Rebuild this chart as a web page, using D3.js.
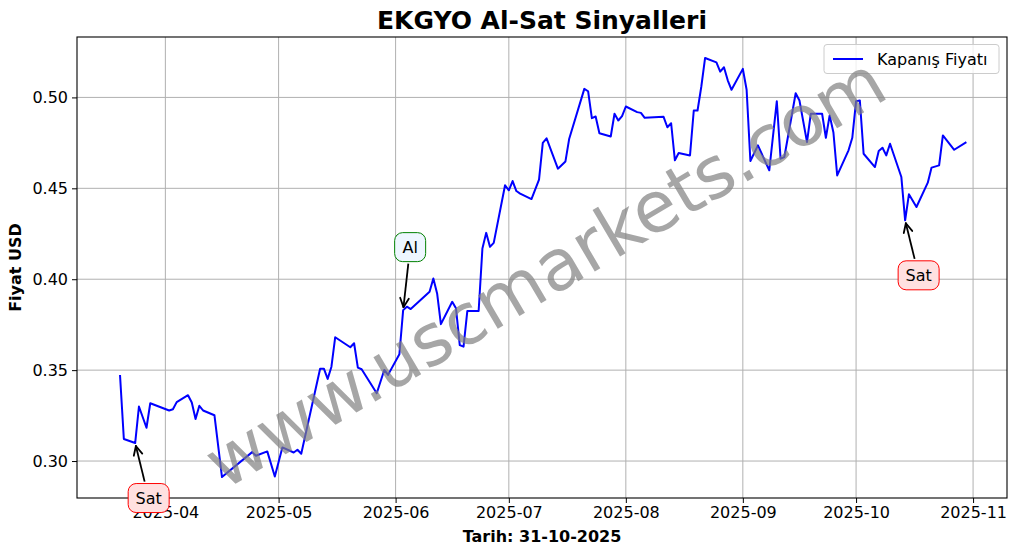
<!DOCTYPE html>
<html>
<head>
<meta charset="utf-8">
<script src="https://cdn.jsdelivr.net/npm/d3@7"></script>
<style>
html,body{margin:0;padding:0;background:#fff;}
svg{display:block;font-family:"DejaVu Sans",sans-serif;}
</style>
</head>
<body>
<svg id="chart" width="1017" height="554"></svg>
<script>
// ---- data ----
const titleText = "EKGYO Al-Sat Sinyalleri";
const xLabelText = "Tarih: 31-10-2025";
const yLabelText = "Fiyat USD";
const legendText = "Kapanış Fiyatı";
const watermarkText = "www.uscmarkets.com";

const dates = ["2025-03-20","2025-03-21","2025-03-24","2025-03-25","2025-03-27","2025-03-28",
"2025-04-02","2025-04-03","2025-04-04","2025-04-07","2025-04-08","2025-04-09","2025-04-10","2025-04-11","2025-04-14","2025-04-16","2025-04-24","2025-04-25","2025-04-28","2025-04-30",
"2025-05-02","2025-05-05","2025-05-06","2025-05-07","2025-05-12","2025-05-13","2025-05-14","2025-05-15","2025-05-16","2025-05-20","2025-05-21","2025-05-22","2025-05-23","2025-05-27","2025-05-29","2025-05-30",
"2025-06-02","2025-06-03","2025-06-04","2025-06-05","2025-06-10","2025-06-11","2025-06-12","2025-06-13","2025-06-16","2025-06-17","2025-06-18","2025-06-19","2025-06-20","2025-06-23","2025-06-24","2025-06-25","2025-06-26","2025-06-27","2025-06-30",
"2025-07-01","2025-07-02","2025-07-03","2025-07-04","2025-07-07","2025-07-09","2025-07-10","2025-07-11","2025-07-14","2025-07-16","2025-07-17","2025-07-21","2025-07-22","2025-07-23","2025-07-24","2025-07-25","2025-07-28","2025-07-29","2025-07-30","2025-07-31",
"2025-08-01","2025-08-04","2025-08-05","2025-08-06","2025-08-11","2025-08-12","2025-08-13","2025-08-14","2025-08-15","2025-08-18","2025-08-19","2025-08-20","2025-08-21","2025-08-22","2025-08-25","2025-08-26","2025-08-27","2025-08-28","2025-08-29",
"2025-09-01","2025-09-02","2025-09-03","2025-09-05","2025-09-08","2025-09-10","2025-09-11","2025-09-12","2025-09-15","2025-09-16","2025-09-18","2025-09-19","2025-09-22","2025-09-23","2025-09-24","2025-09-25","2025-09-26","2025-09-29","2025-09-30",
"2025-10-01","2025-10-02","2025-10-03","2025-10-06","2025-10-07","2025-10-08","2025-10-09","2025-10-10","2025-10-13","2025-10-14","2025-10-15","2025-10-17","2025-10-20","2025-10-21","2025-10-23","2025-10-24","2025-10-27","2025-10-30"];

const closes = [0.3468,0.3121,0.3099,0.3300,0.3183,0.3318,
0.3278,0.3285,0.3324,0.3362,0.3322,0.3231,0.3304,0.3278,0.3252,0.2912,0.3049,0.3029,0.3053,0.2915,
0.3075,0.3047,0.3062,0.3040,0.3508,0.3508,0.3452,0.3519,0.3681,0.3626,0.3648,0.3514,0.3505,0.3373,0.3501,0.3474,
0.3587,0.3830,0.3849,0.3836,0.3931,0.4004,0.3922,0.3753,0.3876,0.3840,0.3638,0.3629,0.3825,0.3825,0.4169,0.4255,0.4178,0.4200,0.4517,
0.4489,0.4540,0.4485,0.4471,0.4441,0.4548,0.4750,0.4775,0.4608,0.4648,0.4773,0.5047,0.5034,0.4886,0.4895,0.4803,0.4785,0.4910,0.4873,0.4897,
0.4950,0.4919,0.4915,0.4888,0.4893,0.4836,0.4858,0.4654,0.4694,0.4681,0.4928,0.4928,0.5060,0.5217,0.5193,0.5142,0.5166,0.5094,0.5042,
0.5157,0.5042,0.4650,0.4736,0.4599,0.4979,0.4663,0.4672,0.5023,0.4983,0.4754,0.4910,0.4910,0.4778,0.4901,0.4807,0.4571,0.4709,0.4778,
0.4979,0.4983,0.4690,0.4617,0.4705,0.4723,0.4681,0.4745,0.4562,0.4324,0.4467,0.4397,0.4531,0.4614,0.4626,0.4791,0.4712,0.4751];

const signalDates = ["2025-03-24","2025-06-03","2025-10-14"];
const signalTypes = ["Sat","Al","Sat"];

const yTicks = [0.30,0.35,0.40,0.45,0.50];
const xTickLabels = ["2025-04","2025-05","2025-06","2025-07","2025-08","2025-09","2025-10","2025-11"];

// ---- layout ----
const W = 1017, H = 554;
const m = {left:77, right:1007, top:37, bottom:498};
const svg = d3.select("#chart");
const parse = d3.utcParse("%Y-%m-%d");
const data = dates.map((d,i)=>({date:parse(d), close:closes[i]}));

const xExt = d3.extent(data, d=>d.date);
const xPad = (xExt[1]-xExt[0])*0.05;
const x = d3.scaleUtc()
  .domain([new Date(+xExt[0]-xPad), new Date(+xExt[1]+xPad)])
  .range([m.left+0.8, m.right+0.8]);
const yExt = d3.extent(data, d=>d.close);
const yPad = (yExt[1]-yExt[0])*0.05;
const y = d3.scaleLinear()
  .domain([yExt[0]-yPad, yExt[1]+yPad])
  .range([m.bottom, m.top]);

const tickDates = xTickLabels.map(s=>d3.utcParse("%Y-%m")(s));

// grid
const grid = svg.append("g");
grid.selectAll(".vg").data(tickDates).join("line")
  .attr("x1",d=>x(d)).attr("x2",d=>x(d))
  .attr("y1",m.top).attr("y2",m.bottom)
  .attr("stroke","#b0b0b0").attr("stroke-width",1);
grid.selectAll(".hg").data(yTicks).join("line")
  .attr("x1",m.left).attr("x2",m.right)
  .attr("y1",d=>y(d)).attr("y2",d=>y(d))
  .attr("stroke","#b0b0b0").attr("stroke-width",1);

// clip
svg.append("clipPath").attr("id","clip").append("rect")
  .attr("x",m.left).attr("y",m.top).attr("width",m.right-m.left).attr("height",m.bottom-m.top);

// line
const line = d3.line().x(d=>x(d.date)).y(d=>y(d.close));
svg.append("path").datum(data)
  .attr("clip-path","url(#clip)")
  .attr("fill","none").attr("stroke","#0000ff").attr("stroke-width",2)
  .attr("stroke-linejoin","round").attr("stroke-linecap","square")
  .attr("d",line);

// axes
const xAxis = d3.axisBottom(x).tickValues(tickDates).tickFormat(d3.utcFormat("%Y-%m")).tickSize(5).tickPadding(4);
const gx = svg.append("g").attr("transform",`translate(0,${m.bottom})`).call(xAxis);
const yAxis = d3.axisLeft(y).tickValues(yTicks).tickFormat(d3.format(".2f")).tickSize(5).tickPadding(4);
const gy = svg.append("g").attr("transform",`translate(${m.left},0)`).call(yAxis);
[gx,gy].forEach(g=>{
  g.select(".domain").remove();
  g.selectAll("line").attr("stroke","#000").attr("stroke-width",1);
  g.selectAll("text").attr("fill","#000").style("font-size","16px").style("font-family","DejaVu Sans");
});

// frame
svg.append("rect").attr("x",m.left).attr("y",m.top)
  .attr("width",m.right-m.left).attr("height",m.bottom-m.top)
  .attr("fill","none").attr("stroke","#000").attr("stroke-width",1.1);

// title & labels
svg.append("text").attr("x",(m.left+m.right)/2).attr("y",29)
  .attr("text-anchor","middle").style("font-size","25px").style("font-weight","bold").text(titleText);
svg.append("text").attr("x",(m.left+m.right)/2).attr("y",542)
  .attr("text-anchor","middle").style("font-size","16px").style("font-weight","bold").text(xLabelText);
svg.append("text").attr("transform",`translate(21,${(m.top+m.bottom)/2}) rotate(-90)`)
  .attr("text-anchor","middle").style("font-size","16px").style("font-weight","bold").text(yLabelText);

// legend
const lg = svg.append("g");
lg.append("rect").attr("x",824).attr("y",44.5).attr("width",175).attr("height",29).attr("rx",3)
  .attr("fill","#fff").attr("fill-opacity",0.8).attr("stroke","#cccccc").attr("stroke-width",1);
lg.append("line").attr("x1",833).attr("x2",863).attr("y1",59).attr("y2",59)
  .attr("stroke","#0000ff").attr("stroke-width",2);
lg.append("text").attr("x",877).attr("y",65).style("font-size","16px").text(legendText);

// annotations
const sigData = signalDates.map((d,i)=>{
  const dt = parse(d);
  const rec = data.find(p=>+p.date===+dt);
  return {date:dt, close:rec.close, type:signalTypes[i]};
});
const ann = svg.append("g");
sigData.forEach(s=>{
  const px = x(s.date), py = y(s.close);
  const isBuy = s.type==="Al";
  const cx = px + (isBuy?7:13.5), cy = py + (isBuy?-63:55);
  const bw = isBuy?31:41, bh = 29;
  // arrow
  const dx = px-cx, dy = py-cy, len = Math.hypot(dx,dy);
  const ux = dx/len, uy = dy/len;
  const tEdge = Math.min((bw/2)/Math.abs(ux||1e-9),(bh/2)/Math.abs(uy||1e-9));
  const sx = cx+ux*(tEdge+2), sy = cy+uy*(tEdge+2);
  const ex = px-ux*3, ey = py-uy*3;
  ann.append("line").attr("x1",sx).attr("y1",sy).attr("x2",ex).attr("y2",ey)
    .attr("stroke","#000").attr("stroke-width",1.8);
  const ah = 10, ang = 0.45;
  const a0 = Math.atan2(uy,ux);
  [ang,-ang].forEach(a=>{
    ann.append("line").attr("x1",ex).attr("y1",ey)
      .attr("x2",ex-ah*Math.cos(a0+a)).attr("y2",ey-ah*Math.sin(a0+a))
      .attr("stroke","#000").attr("stroke-width",1.8).attr("stroke-linecap","round");
  });
  ann.append("rect").attr("x",cx-bw/2).attr("y",cy-bh/2).attr("width",bw).attr("height",bh)
    .attr("rx",8).attr("fill",isBuy?"#eef6ff":"#ffe0e0")
    .attr("stroke",isBuy?"#008000":"#ff0000").attr("stroke-width",1);
  ann.append("text").attr("x",cx).attr("y",cy+6).attr("text-anchor","middle")
    .style("font-size","16px").text(s.type);
});

// watermark
svg.append("text").attr("transform","translate(545,272) rotate(-30.6)")
  .attr("text-anchor","middle").attr("dy","0.35em")
  .style("font-size","71px").attr("fill","#808080").attr("fill-opacity",0.7)
  .text(watermarkText);
</script>
</body>
</html>
